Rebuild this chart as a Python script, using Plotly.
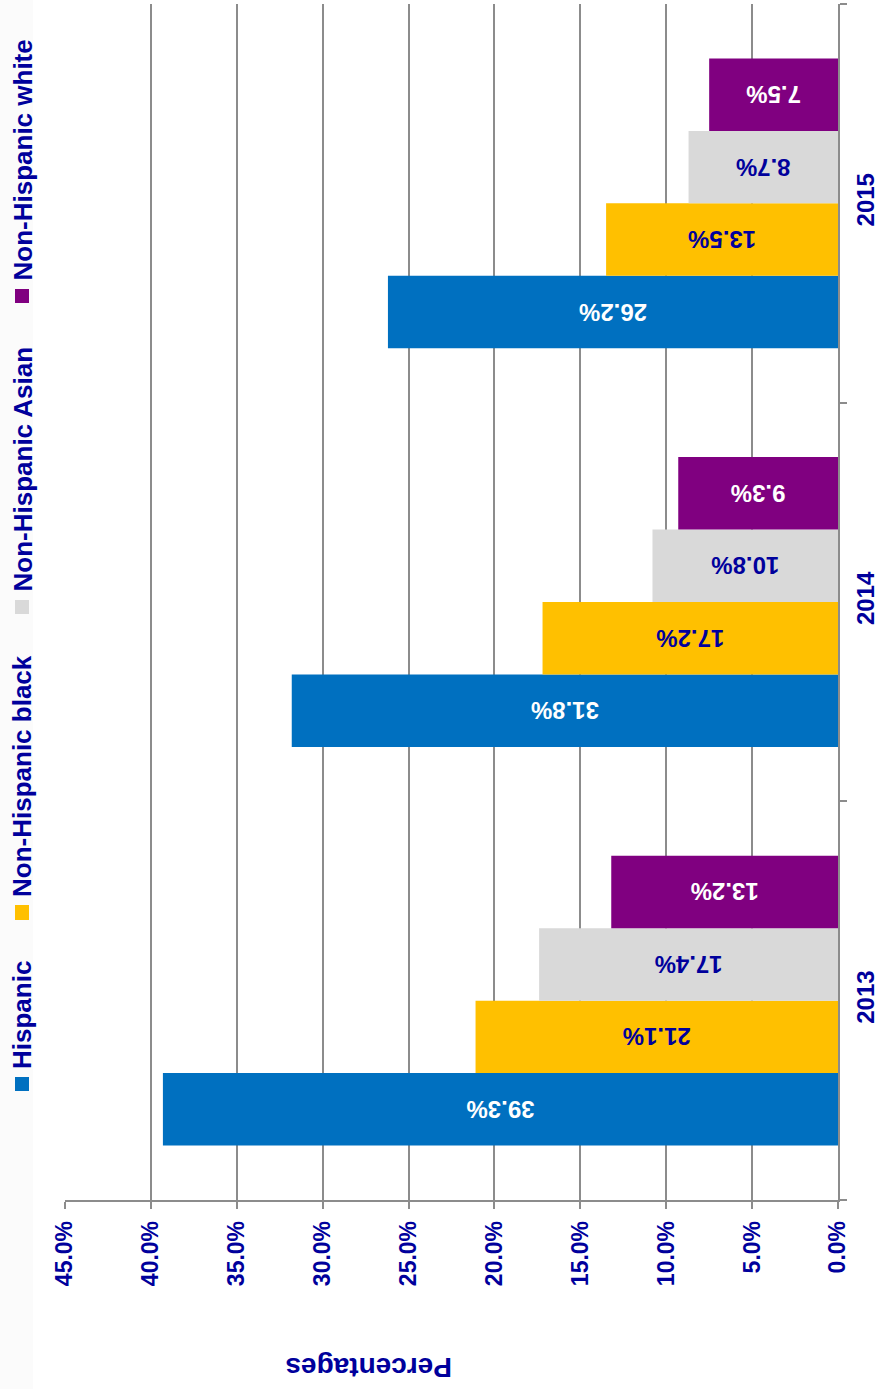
import plotly.graph_objects as go

years = ["2013", "2014", "2015"]
groups = ["Hispanic", "Non-Hispanic black", "Non-Hispanic Asian", "Non-Hispanic white"]
hispanic = [39.3, 31.8, 26.2]
nh_black = [21.1, 17.2, 13.5]
nh_asian = [17.4, 10.8, 8.7]
nh_white = [13.2, 9.3, 7.5]
x_ticks = [0, 5, 10, 15, 20, 25, 30, 35, 40, 45]

colors = ["#0070C0", "#FFC000", "#D9D9D9", "#800080"]
label_colors = ["#FFFFFF", "#00009C", "#00009C", "#FFFFFF"]
NAVY = "#00009C"
FONT = "Liberation Sans"
W, H = 879, 1389
ML, MR, MT, MB = 65, 41, 4, 189
PW = W - ML - MR
PH = H - MT - MB

def px_x(p):
    return (p - ML) / PW

def px_y(p):
    return (H - MB - p) / PH

fig = go.Figure()
series = [hispanic, nh_black, nh_asian, nh_white]
for name, vals, c, lc in zip(groups, series, colors, label_colors):
    fig.add_trace(go.Bar(
        y=years, x=vals, name=name, orientation="h",
        marker=dict(color=c, line=dict(width=0)),
        text=[f"{v:.1f}%" for v in vals],
        textposition="inside", insidetextanchor="middle", textangle=180,
        insidetextfont=dict(family=FONT, size=24, color=lc, weight="bold"),
        constraintext="none",
        hoverinfo="skip",
    ))

fig.update_layout(
    width=W, height=H, autosize=False,
    margin=dict(l=ML, r=MR, t=MT, b=MB, autoexpand=False),
    paper_bgcolor="white", plot_bgcolor="white",
    barmode="group", bargap=0.273, bargroupgap=0,
    showlegend=False,
    font=dict(family=FONT, color=NAVY, size=23, weight="bold"),
    xaxis=dict(
        range=[45, 0], tickvals=x_ticks,
        ticktext=[f"{t:.1f}%" for t in x_ticks],
        tickangle=-90, showgrid=True, gridcolor="#8C8C8C", gridwidth=1.5,
        showline=True, linecolor="#8C8C8C", linewidth=1.5,
        ticks="outside", ticklen=7, tickcolor="#8C8C8C", tickwidth=1.5,
        zeroline=False, ticklabelstandoff=3, automargin=False,
        tickfont=dict(family=FONT, size=23, color=NAVY, weight="bold"),
    ),
    yaxis=dict(
        type="category", categoryorder="array", categoryarray=years,
        side="right", tickangle=-90,
        showline=True, linecolor="#8C8C8C", linewidth=1.5,
        ticks="outside", tickson="boundaries", ticklen=7,
        tickcolor="#8C8C8C", tickwidth=1.5, showgrid=False,
        ticklabelstandoff=5, automargin=False,
        tickfont=dict(family=FONT, size=24, color=NAVY, weight="bold"),
    ),
)

shapes = [dict(type="rect", xref="paper", yref="paper",
               x0=px_x(0), x1=px_x(33), y0=px_y(H), y1=px_y(0),
               fillcolor="#FBFBFB", line=dict(width=0), layer="below")]
sq = [(1077, 1091), (905, 920), (600, 614), (289, 303)]
for (t, b), c in zip(sq, colors):
    shapes.append(dict(type="rect", xref="paper", yref="paper",
                       x0=px_x(15), x1=px_x(29), y0=px_y(b), y1=px_y(t),
                       fillcolor=c, line=dict(width=0)))
fig.update_layout(shapes=shapes)

anns = []
for (t, b), name in zip(sq, groups):
    anns.append(dict(text=f"<b>{name}</b>", xref="paper", yref="paper",
                     x=px_x(22), y=px_y(t - 6), xanchor="center", yanchor="bottom",
                     textangle=-90, showarrow=False,
                     font=dict(family=FONT, size=26, color=NAVY, weight="bold")))
anns.append(dict(text="<b>Percentages</b>", xref="paper", yref="paper",
                 x=px_x(369), y=px_y(1368), xanchor="center", yanchor="middle",
                 textangle=180, showarrow=False,
                 font=dict(family=FONT, size=28, color=NAVY, weight="bold")))
fig.update_layout(annotations=anns)

fig.write_html("out.html", config={"displayModeBar": False},
               post_script="document.body.style.margin='0';")
